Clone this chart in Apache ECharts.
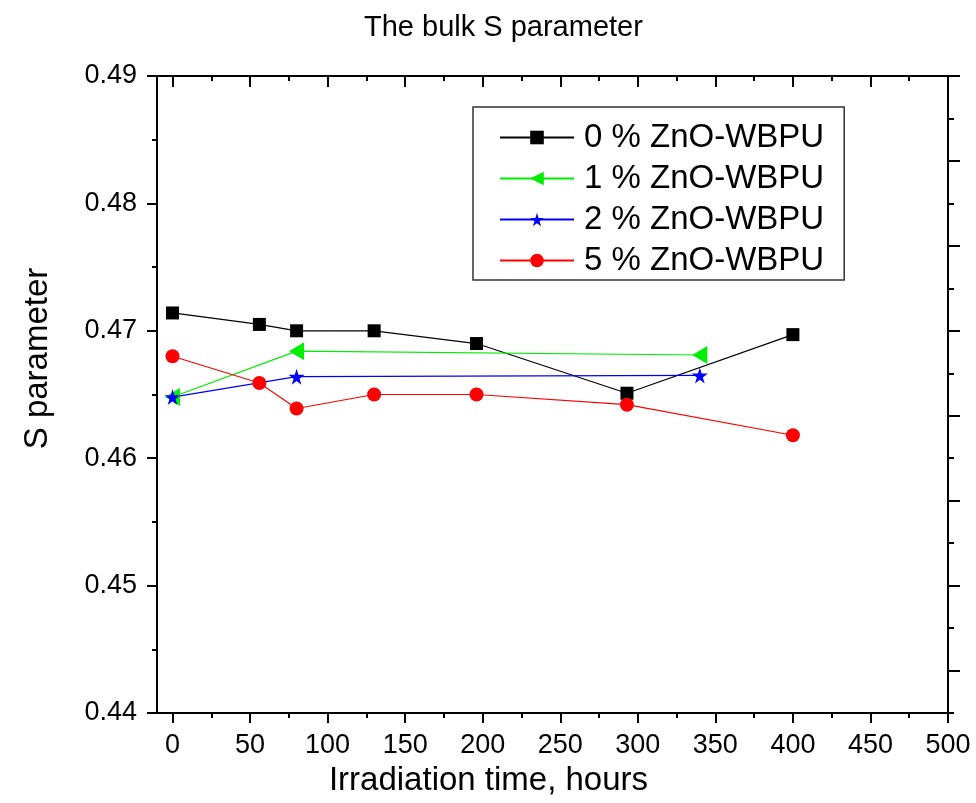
<!DOCTYPE html>
<html>
<head>
<meta charset="utf-8">
<script src="https://cdn.jsdelivr.net/npm/echarts@6/dist/echarts.min.js"></script>
<style>
  html, body { margin: 0; padding: 0; background: #fff; }
  #chart { width: 976px; height: 803px; }
</style>
</head>
<body>
<div id="chart"></div>
<script>
// irradiation times (hours) and S parameter values per sample
const hours0 = [0, 56, 80, 130, 196, 293, 400];
const sParam0 = [0.4714, 0.4705, 0.4700, 0.4700, 0.4690, 0.4651, 0.4697];

const hours1 = [0, 80, 340];
const sParam1 = [0.4648, 0.4684, 0.4681];

const hours2 = [0, 80, 340];
const sParam2 = [0.4648, 0.4664, 0.4665];

const hours5 = [0, 56, 80, 130, 196, 293, 400];
const sParam5 = [0.4680, 0.4659, 0.4639, 0.4650, 0.4650, 0.4642, 0.4618];

const seriesNames = ['0 % ZnO-WBPU', '1 % ZnO-WBPU', '2 % ZnO-WBPU', '5 % ZnO-WBPU'];

const xTicks = [0, 50, 100, 150, 200, 250, 300, 350, 400, 450, 500];
const yTicks = ['0.44', '0.45', '0.46', '0.47', '0.48', '0.49'];
// the unlabelled right frame axis has its own tick spacing (7.5 steps top to bottom)
const rightTicks = [0, 1, 2, 3, 4, 5, 6, 7];

const FONT = "'Liberation Sans', Arial, sans-serif";
const STAR = 'path://M50,0 L61,35 L98,35 L68,57 L79,91 L50,70 L21,91 L32,57 L2,35 L39,35 Z';

const xMinor = xTicks.slice(1).map((v, i) => (v + xTicks[i]) / 2);
const rightMinor = rightTicks.map(v => v + 0.5);
const xMin = -10;
const xMax = xTicks[xTicks.length - 1];
const yMin = Number(yTicks[0]);
const yMax = Number(yTicks[yTicks.length - 1]);
const rightMax = rightMinor[rightMinor.length - 1];

const pairs = (xs, ys) => xs.map((x, i) => [x, ys[i]]);

const chart = echarts.init(document.getElementById('chart'));

const axisLine = { show: true, onZero: false, lineStyle: { color: '#000', width: 2 } };
const noLine = { show: false, onZero: false };
const tickStyle = { color: '#000', width: 2 };

const option = {
  animation: false,
  backgroundColor: '#fff',
  textStyle: { fontFamily: FONT },
  title: {
    text: 'The bulk S parameter',
    left: 359,
    top: 8,
    textStyle: { fontFamily: FONT, fontSize: 29, fontWeight: 'normal', color: '#000' }
  },
  grid: { left: 157, right: 28, top: 76, bottom: 90 },
  legend: {
    orient: 'vertical',
    left: 473,
    top: 107,
    padding: [14, 20, 3, 26],
    itemWidth: 74,
    itemHeight: 17,
    itemGap: 8,
    backgroundColor: '#fff',
    borderColor: '#333',
    borderWidth: 1.5,
    data: seriesNames,
    textStyle: { fontFamily: FONT, fontSize: 33, lineHeight: 33, color: '#000', padding: [0, 0, 0, 5] }
  },
  xAxis: [
    {
      type: 'value',
      position: 'bottom',
      min: xMin,
      max: xMax,
      name: 'Irradiation time, hours',
      nameLocation: 'middle',
      nameGap: 51,
      nameTextStyle: { fontFamily: FONT, fontSize: 33, color: '#000', padding: [0, 128, 0, 0] },
      axisLine: axisLine,
      axisTick: { show: true, inside: false, length: 10, customValues: xTicks, lineStyle: tickStyle },
      axisLabel: { customValues: xTicks, margin: 19, fontSize: 27, color: '#000', fontFamily: FONT },
      splitLine: { show: false }
    },
    {
      type: 'value',
      position: 'bottom',
      min: xMin,
      max: xMax,
      axisLine: noLine,
      axisTick: { show: true, inside: false, length: 5, customValues: xMinor, lineStyle: tickStyle },
      axisLabel: { show: false },
      splitLine: { show: false }
    },
    {
      type: 'value',
      position: 'top',
      min: xMin,
      max: xMax,
      axisLine: axisLine,
      axisTick: { show: true, inside: true, length: 11, customValues: xTicks, lineStyle: tickStyle },
      axisLabel: { show: false },
      splitLine: { show: false }
    },
    {
      type: 'value',
      position: 'top',
      min: xMin,
      max: xMax,
      axisLine: noLine,
      axisTick: { show: true, inside: true, length: 5, customValues: xMinor, lineStyle: tickStyle },
      axisLabel: { show: false },
      splitLine: { show: false }
    }
  ],
  yAxis: [
    {
      type: 'value',
      position: 'left',
      min: yMin,
      max: yMax,
      interval: 0.01,
      name: 'S parameter',
      nameLocation: 'middle',
      nameGap: 103,
      nameTextStyle: { fontFamily: FONT, fontSize: 33, color: '#000', padding: [0, 0, 0, 72] },
      axisLine: axisLine,
      axisTick: { show: true, inside: false, length: 10, lineStyle: tickStyle },
      minorTick: { show: true, splitNumber: 2, length: 5, lineStyle: tickStyle },
      axisLabel: { margin: 20, fontSize: 27, color: '#000', fontFamily: FONT, formatter: v => v.toFixed(2) },
      splitLine: { show: false }
    },
    {
      type: 'value',
      position: 'right',
      inverse: true,
      min: 0,
      max: rightMax,
      axisLine: axisLine,
      axisTick: { show: true, inside: false, length: 12, customValues: rightTicks, lineStyle: tickStyle },
      axisLabel: { show: false },
      splitLine: { show: false }
    },
    {
      type: 'value',
      position: 'right',
      inverse: true,
      min: 0,
      max: rightMax,
      axisLine: noLine,
      axisTick: { show: true, inside: false, length: 6, customValues: rightMinor, lineStyle: tickStyle },
      axisLabel: { show: false },
      splitLine: { show: false }
    }
  ],
  series: [
    {
      name: seriesNames[0],
      type: 'line',
      data: pairs(hours0, sParam0),
      symbol: 'rect',
      symbolSize: 13,
      color: '#000',
      lineStyle: { color: '#000', width: 1.2 },
      itemStyle: { color: '#000' }
    },
    {
      name: seriesNames[1],
      type: 'line',
      data: pairs(hours1, sParam1),
      symbol: 'triangle',
      symbolRotate: 90,
      symbolSize: [18, 15],
      color: '#00ee00',
      lineStyle: { color: '#00ee00', width: 1.2 },
      itemStyle: { color: '#00ee00' }
    },
    {
      name: seriesNames[2],
      type: 'line',
      data: pairs(hours2, sParam2),
      symbol: STAR,
      symbolSize: 16,
      color: '#0000ff',
      lineStyle: { color: '#0000ff', width: 1.2 },
      itemStyle: { color: '#0000ff' }
    },
    {
      name: seriesNames[3],
      type: 'line',
      data: pairs(hours5, sParam5),
      symbol: 'circle',
      symbolSize: 14,
      color: '#ff0000',
      lineStyle: { color: '#ff0000', width: 1.2 },
      itemStyle: { color: '#ff0000' }
    }
  ]
};

chart.setOption(option);
</script>
</body>
</html>
